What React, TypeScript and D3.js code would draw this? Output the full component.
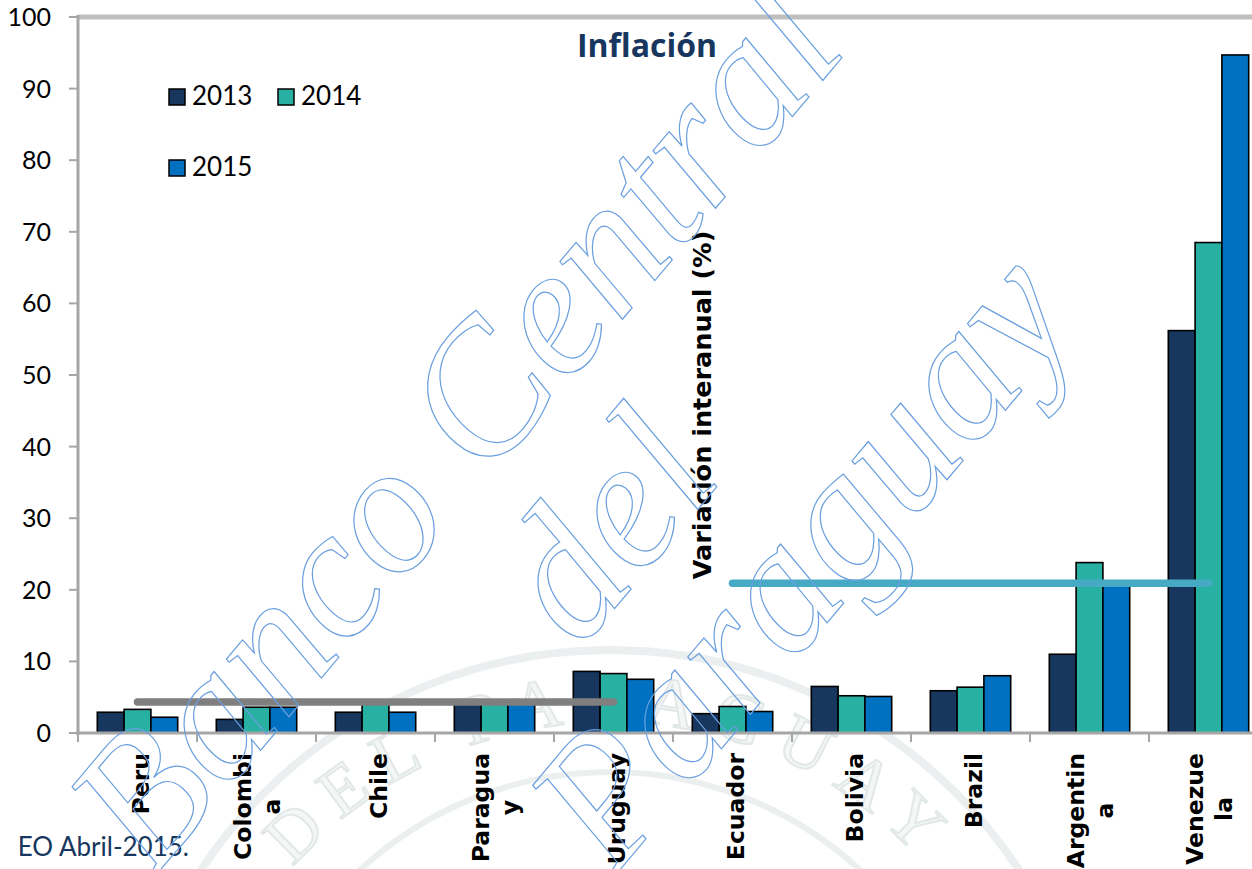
import React from 'react';
import * as d3 from 'd3';

// data
const categories = ['Peru', 'Colombia', 'Chile', 'Paraguay', 'Uruguay', 'Ecuador', 'Bolivia', 'Brazil', 'Argentina', 'Venezuela'];
const categoryLabels = [['Peru'], ['Colombi', 'a'], ['Chile'], ['Paragua', 'y'], ['Uruguay'], ['Ecuador'], ['Bolivia'], ['Brazil'], ['Argentin', 'a'], ['Venezue', 'la']];
const years = ['2013', '2014', '2015'];
const values2013 = [2.9, 1.9, 2.9, 4.1, 8.6, 2.7, 6.5, 5.9, 11.0, 56.2];
const values2014 = [3.3, 3.6, 4.4, 4.3, 8.3, 3.7, 5.2, 6.4, 23.8, 68.5];
const values2015 = [2.2, 3.6, 2.9, 4.2, 7.5, 3.0, 5.1, 8.0, 20.6, 94.7];
const yTicks = [0, 10, 20, 30, 40, 50, 60, 70, 80, 90, 100];
// average lines: [first category, last category]
const avgRanges = [['Peru', 'Uruguay'], ['Ecuador', 'Venezuela']];
const avgValues = [4.33, 20.9];
const avgColors = ['#7f7f7f', '#47aac5'];

const seriesColors = ['#17375e', '#28b0a3', '#0070c0'];
const navy = '#17375e';

const W = 1252;
const H = 869;

const LABEL_SIZE = 23.5;
const LABEL_FONT = `bold ${LABEL_SIZE}px 'DejaVu Sans'`;

let ctx: CanvasRenderingContext2D | null = null;
function textWidth(s: string) {
  if (!ctx) ctx = document.createElement('canvas').getContext('2d');
  if (!ctx) return s.length * 15;
  ctx.font = LABEL_FONT;
  return ctx.measureText(s).width;
}

export default function App() {
  const series = [values2013, values2014, values2015];

  const x0 = d3.scaleBand<string>().domain(categories).range([78, 78 + 119 * 10]).paddingInner(0).paddingOuter(0);
  const x1 = d3.scaleBand<string>().domain(years).range([19.3, 99.7]).paddingInner(0);
  const y = d3.scaleLinear().domain([0, 100]).range([733, 17]);

  const line = d3.line<[number, number]>().x(d => d[0]).y(d => d[1]);
  const center = (c: string) => (x0(c) as number) + x0.bandwidth() / 2;

  // seal geometry: text runs over the top of the circle
  const sealR = 418;
  const a = Math.PI * 0.75;
  const sx = sealR * Math.sin(a);
  const sy = -sealR * Math.cos(a);
  const arcPath = `M ${-sx} ${sy} A ${sealR} ${sealR} 0 1 1 ${sx} ${sy}`;

  return (
    <svg width={W} height={H} style={{ position: 'absolute', left: 0, top: 0, background: '#fff' }}>
      {/* faint seal in the background */}
      <g transform="translate(610,1140)">
        <circle r={490} fill="none" stroke="#ebefef" strokeWidth={8} />
        <circle r={368} fill="none" stroke="#ebefef" strokeWidth={6} />
        <defs>
          <path id="sealArc" d={arcPath} />
        </defs>
        <text fontFamily="'Liberation Serif', serif" fontSize={70} letterSpacing={16} fill="#f5f7f7" stroke="#e2e8e8" strokeWidth={2}>
          <textPath href="#sealArc" startOffset="50%" textAnchor="middle">DEL PARAGUAY</textPath>
        </text>
      </g>

      {/* plot frame */}
      <line x1={78} x2={W} y1={17} y2={17} stroke="#bfbfbf" strokeWidth={5} />

      {/* bars */}
      {categories.map((c, i) => (
        <g key={c} transform={`translate(${x0(c)},0)`}>
          {years.map((yr, s) => {
            const v = series[s][i];
            return (
              <rect
                key={yr}
                x={x1(yr)}
                y={y(v)}
                width={x1.bandwidth()}
                height={y(0) - y(v)}
                fill={seriesColors[s]}
                stroke="#000"
                strokeWidth={1.6}
              />
            );
          })}
        </g>
      ))}

      {/* average lines */}
      {avgRanges.map((r, k) => (
        <path
          key={k}
          d={line([[center(r[0]), y(avgValues[k])], [center(r[1]), y(avgValues[k])]]) as string}
          stroke={avgColors[k]}
          strokeWidth={7.5}
          strokeLinecap="round"
          fill="none"
        />
      ))}

      {/* y axis */}
      <line x1={78} x2={78} y1={15} y2={735} stroke="#a6a6a6" strokeWidth={3} />
      {yTicks.map(t => (
        <g key={t}>
          <line x1={69} x2={78} y1={y(t)} y2={y(t)} stroke="#a6a6a6" strokeWidth={2} />
          <text x={51} y={y(t)} dy="0.36em" textAnchor="end" fontFamily="Lato, sans-serif" fontSize={25} fill="#000">
            {t}
          </text>
        </g>
      ))}

      {/* x axis */}
      <line x1={76} x2={W} y1={733} y2={733} stroke="#a6a6a6" strokeWidth={3} />
      {categories.map(c => (
        <line key={c} x1={x0(c)} x2={x0(c)} y1={733} y2={742} stroke="#a6a6a6" strokeWidth={2} />
      ))}
      {categories.map((c, i) => {
        const lines = categoryLabels[i];
        const cx = center(c);
        const blockLen = Math.max(...lines.map(textWidth));
        const mid = 753 + blockLen / 2;
        const shift = lines.length === 1 ? 11.5 : 9;
        return lines.map((ln, j) => {
          const lx = cx + (j - (lines.length - 1) / 2) * 29 + shift;
          return (
            <text
              key={c + j}
              transform={`translate(${lx},${mid}) rotate(-90)`}
              textAnchor="middle"
              fontFamily="'DejaVu Sans', Verdana, sans-serif"
              fontWeight="bold"
              fontSize={LABEL_SIZE}
              fill="#000"
            >
              {ln}
            </text>
          );
        });
      })}

      {/* y axis title, placed inside the plot */}
      <text
        transform="translate(711,405) rotate(-90)"
        textAnchor="middle"
        fontFamily="'DejaVu Sans', Verdana, sans-serif"
        fontWeight="bold"
        fontSize={25.5}
        fill="#000"
      >
        Variación interanual (%)
      </text>

      {/* title */}
      <text x={647} y={57} textAnchor="middle" fontFamily="'Open Sans', sans-serif" fontWeight="bold" fontSize={32} fill={navy}>
        Inflación
      </text>

      {/* legend */}
      {years.map((yr, s) => {
        const lx = s === 1 ? 278 : 169;
        const ly = s === 2 ? 160 : 89;
        return (
          <g key={yr}>
            <rect x={lx} y={ly} width={16} height={16} fill={seriesColors[s]} stroke="#000" strokeWidth={1.5} />
            <text x={lx + 23} y={ly + 16} fontFamily="Lato, sans-serif" fontSize={26} fill="#000">
              {yr}
            </text>
          </g>
        );
      })}

      {/* source, cut by the slide edge */}
      <text x={189} y={856} textAnchor="end" fontFamily="Lato, sans-serif" fontSize={26} fill={navy}>
        EO Abril-2015.
      </text>

      {/* watermark */}
      <g
        transform="translate(605,525) rotate(-50)"
        fontFamily="'Liberation Serif', serif"
        fontStyle="italic"
        fontSize={185}
        fill="none"
        stroke="#6a9fdf"
        strokeWidth={1.2}
        textAnchor="middle"
      >
        <text x={-20} y={-180} dy="0.33em">Banco Central</text>
        <text x={0} y={0} dy="0.33em">del</text>
        <text x={100} y={172} dy="0.33em">Paraguay</text>
      </g>
    </svg>
  );
}
